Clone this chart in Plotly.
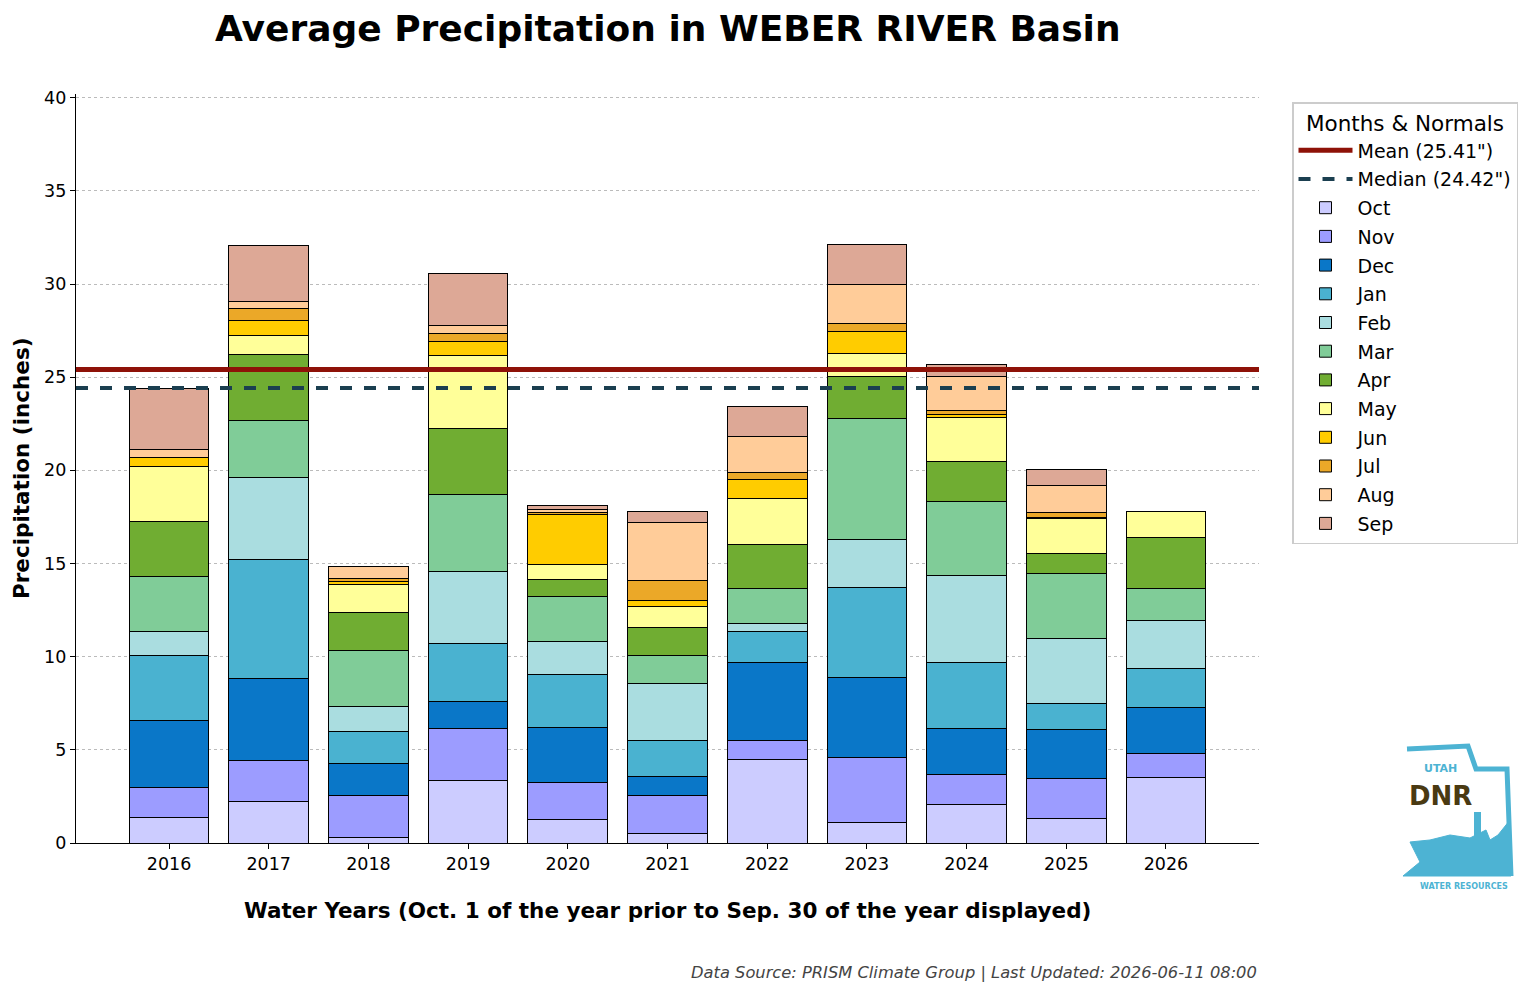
import plotly.graph_objects as go

years = [2016, 2017, 2018, 2019, 2020, 2021, 2022, 2023, 2024, 2025, 2026]
months = ["Oct", "Nov", "Dec", "Jan", "Feb", "Mar", "Apr", "May", "Jun", "Jul", "Aug", "Sep"]

oct_v = [1.36, 2.23, 0.30, 3.38, 1.27, 0.51, 4.50, 1.10, 2.08, 1.32, 3.53]
nov_v = [1.61, 2.21, 2.25, 2.78, 1.97, 2.03, 0.99, 3.50, 1.61, 2.15, 1.28]
dec_v = [3.61, 4.40, 1.72, 1.44, 2.95, 1.02, 4.18, 4.28, 2.47, 2.63, 2.47]
jan_v = [3.49, 6.35, 1.72, 3.13, 2.84, 1.93, 1.67, 4.84, 3.54, 1.40, 2.10]
feb_v = [1.29, 4.44, 1.34, 3.86, 1.79, 3.06, 0.43, 2.56, 4.67, 3.49, 2.58]
mar_v = [2.96, 3.05, 2.99, 4.12, 2.43, 1.50, 1.89, 6.49, 3.97, 3.49, 1.71]
apr_v = [2.95, 3.55, 2.06, 3.55, 0.87, 1.51, 2.35, 2.29, 2.14, 1.07, 2.74]
may_v = [2.95, 1.02, 1.49, 3.93, 0.81, 1.14, 2.50, 1.19, 2.37, 1.86, 1.40]
jun_v = [0.48, 0.81, 0.15, 0.74, 2.69, 0.30, 0.98, 1.23, 0.16, 0.06, None]
jul_v = [0.00, 0.64, 0.17, 0.39, 0.12, 1.08, 0.38, 0.38, 0.21, 0.27, None]
aug_v = [0.43, 0.34, 0.63, 0.48, 0.15, 3.12, 1.93, 2.14, 1.83, 1.44, None]
sep_v = [3.27, 3.01, 0.00, 2.79, 0.21, 0.57, 1.65, 2.10, 0.64, 0.86, None]

month_values = [oct_v, nov_v, dec_v, jan_v, feb_v, mar_v, apr_v, may_v, jun_v, jul_v, aug_v, sep_v]
month_colors = ["#CCCCFF", "#9C9CFF", "#0A77C8", "#4AB2D0", "#AADDE0", "#80CC98",
                "#70AD32", "#FFFF99", "#FFCC00", "#EBA828", "#FFCC99", "#DDA896"]

mean_val = 25.41
median_val = 24.42

x_range = [2015.067, 2026.933]
font = "DejaVu Sans"

fig = go.Figure()

fig.add_trace(go.Scatter(x=x_range, y=[mean_val, mean_val], mode="lines",
                         line=dict(color="#8E1208", width=5),
                         name=f'Mean ({mean_val:.2f}")', legendgroup="mean", hoverinfo="skip"))
fig.add_trace(go.Scatter(x=x_range, y=[median_val, median_val], mode="lines",
                         line=dict(color="#1B3F50", width=4, dash="dash"),
                         name=f'Median ({median_val:.2f}")', legendgroup="median", hoverinfo="skip"))

for m, vals, c in zip(months, month_values, month_colors):
    fig.add_trace(go.Bar(x=years, y=vals, name=m, width=0.8, legendgroup=m,
                         marker=dict(color=c, line=dict(color="black", width=1))))

# page is drawn with an 8px body offset; layout numbers below account for it
W, H = 1537, 995
L, R, T, B = 68, 286, 86, 160
pw, ph = W - L - R, H - T - B
SX0, SY0 = 76, 843  # screen position of plot's bottom-left corner


def px(xs):
    return (xs - SX0) / pw


def py(ys):
    return (SY0 - ys) / ph


logo_blue = "#4DB3D3"
outline = [(1407, 749), (1468, 746), (1476, 769), (1507, 769), (1511, 876)]
path = "M " + " L ".join(f"{px(a):.5f},{py(b):.5f}" for a, b in outline)
fill_poly = [(1403, 876), (1511, 876), (1510, 820), (1498, 835), (1490, 840), (1486, 830),
             (1470, 838), (1450, 835), (1430, 840), (1410, 842), (1420, 862)]
fill_path = "M " + " L ".join(f"{px(a):.5f},{py(b):.5f}" for a, b in fill_poly) + " Z"

shapes = [
    dict(type="path", xref="paper", yref="paper", path=path,
         line=dict(color=logo_blue, width=5)),
    dict(type="path", xref="paper", yref="paper", path=fill_path,
         fillcolor=logo_blue, line=dict(color=logo_blue, width=1)),
    dict(type="rect", xref="paper", yref="paper", x0=px(1474), x1=px(1481), y0=py(862), y1=py(812),
         fillcolor=logo_blue, line=dict(width=0)),
]

annotations = [
    dict(text="<b>Average Precipitation in WEBER RIVER Basin</b>", xref="paper", yref="paper",
         x=0.5, y=py(28), xanchor="center", yanchor="middle", showarrow=False,
         font=dict(family=font, size=36, color="black")),
    dict(text="<b>Water Years (Oct. 1 of the year prior to Sep. 30 of the year displayed)</b>",
         xref="paper", yref="paper", x=0.5, y=py(910), xanchor="center", yanchor="middle",
         showarrow=False, font=dict(family=font, size=21.5, color="black")),
    dict(text="<b>Precipitation (inches)</b>", xref="paper", yref="paper", x=px(21), y=py(468),
         xanchor="center", yanchor="middle", textangle=-90, showarrow=False,
         font=dict(family=font, size=21.5, color="black")),
    dict(text="<i>Data Source: PRISM Climate Group | Last Updated: 2026-06-11 08:00</i>",
         xref="paper", yref="paper", x=1.0, y=py(972), xanchor="right", yanchor="middle",
         showarrow=False, font=dict(family=font, size=16.3, color="#444444")),
    dict(text="<b>UTAH</b>", xref="paper", yref="paper", x=px(1440), y=py(768),
         xanchor="center", yanchor="middle", showarrow=False,
         font=dict(family=font, size=11, color=logo_blue)),
    dict(text="<b>DNR</b>", xref="paper", yref="paper", x=px(1441), y=py(796),
         xanchor="center", yanchor="middle", showarrow=False,
         font=dict(family=font, size=26, color="#4A3A12")),
    dict(text="<b>WATER RESOURCES</b>", xref="paper", yref="paper", x=px(1464), y=py(886),
         xanchor="center", yanchor="middle", showarrow=False,
         font=dict(family=font, size=8, color=logo_blue)),
]

fig.update_layout(
    width=W, height=H,
    margin=dict(l=L, r=R, t=T, b=B),
    barmode="stack",
    plot_bgcolor="white", paper_bgcolor="white",
    font=dict(family=font, size=17.5, color="black"),
    showlegend=True,
    legend=dict(
        title=dict(text="Months & Normals", font=dict(family=font, size=21.5), side="top center"),
        x=px(1292), y=py(102), xanchor="left", yanchor="top",
        bgcolor="white", bordercolor="#CCCCCC", borderwidth=1.5,
        font=dict(family=font, size=19), tracegroupgap=1, traceorder="grouped",
        itemwidth=54,
    ),
    shapes=shapes,
    annotations=annotations,
    xaxis=dict(range=x_range, tickvals=years, ticktext=[str(y) for y in years],
               showline=True, linecolor="black", linewidth=1.2, ticks="outside",
               ticklen=5, tickwidth=1.2, tickcolor="black", showgrid=False, zeroline=False,
               tickfont=dict(family=font, size=17.5)),
    yaxis=dict(range=[0, 40.2], tickvals=[0, 5, 10, 15, 20, 25, 30, 35, 40],
               showline=True, linecolor="black", linewidth=1.2, ticks="outside",
               ticklen=5, tickwidth=1.2, tickcolor="black", showgrid=True,
               gridcolor="#BBBBBB", griddash="dot", gridwidth=1, zeroline=False,
               tickfont=dict(family=font, size=17.5)),
)

fig.write_html("out.html")
